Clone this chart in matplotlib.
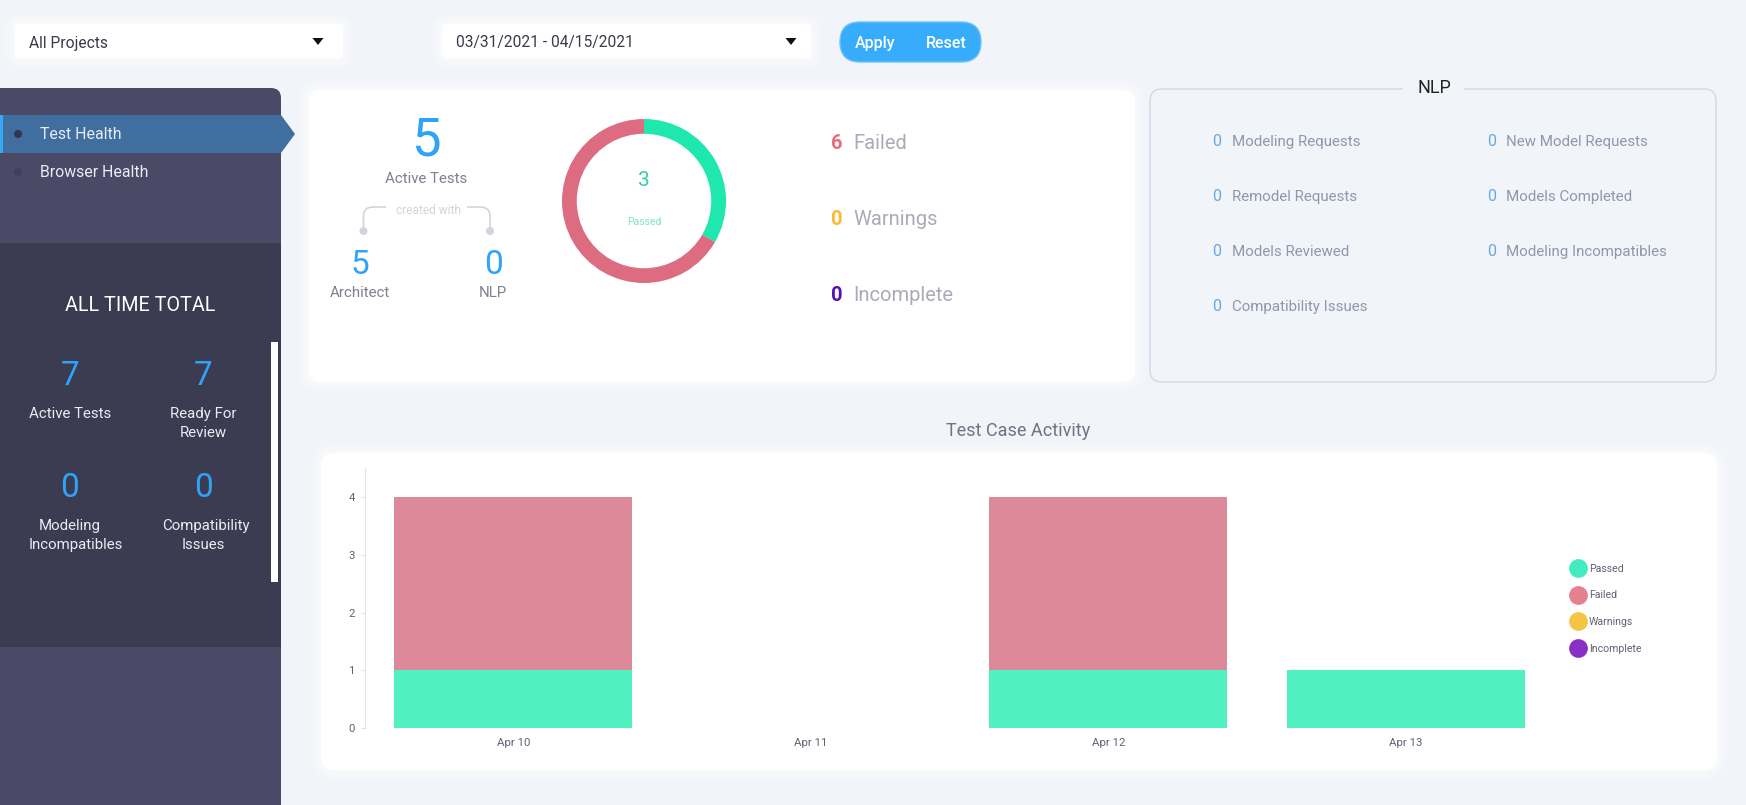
#!/usr/bin/python3
# -*- coding: utf-8 -*-
import matplotlib
matplotlib.use('Agg')
import matplotlib.pyplot as plt
from matplotlib.lines import Line2D
from matplotlib.patches import Circle, FancyBboxPatch, PathPatch, Polygon, Rectangle
from matplotlib.path import Path

# chart data
days = ['Apr 10', 'Apr 11', 'Apr 12', 'Apr 13']
passed = [1, 0, 1, 1]
failed = [3, 0, 3, 0]
warnings_ = [0, 0, 0, 0]
incomplete = [0, 0, 0, 0]
series_names = ['Passed', 'Failed', 'Warnings', 'Incomplete']
y_ticks = [0, 1, 2, 3, 4]

# donut and summary numbers
donut_values = [3, 6]
status_counts = [6, 0, 0]
status_names = ['Failed', 'Warnings', 'Incomplete']
active_tests = 5
created_with = [('Architect', 5), ('NLP', 0)]
nlp_left = [('Modeling Requests', 0), ('Remodel Requests', 0), ('Models Reviewed', 0), ('Compatibility Issues', 0)]
nlp_right = [('New Model Requests', 0), ('Models Completed', 0), ('Modeling Incompatibles', 0)]
all_time = [7, 7, 0, 0]

W, H = 1746, 805
BG = '#f1f4f9'
BLUE = '#2ea3f7'
GREEN = '#50f0c0'
RED = '#dc8a9a'

plt.rcParams['font.family'] = ['Roboto', 'DejaVu Sans']

fig = plt.figure(figsize=(W / 100, H / 100), dpi=100, facecolor=BG)
# whole figure axes in pixels, used for the page layout
page = fig.add_axes([0, 0, 1, 1])
page.set_xlim(0, W)
page.set_ylim(H, 0)
page.axis('off')


def px_axes(left, top, right, bottom):
    return fig.add_axes([left / W, 1 - bottom / H, (right - left) / W, (bottom - top) / H])


def box(x0, y0, x1, y1, radius, **kw):
    p = FancyBboxPatch((x0 + radius, y0 + radius), x1 - x0 - 2 * radius, y1 - y0 - 2 * radius,
                       boxstyle='round,pad=%d,rounding_size=%d' % (radius, radius), **kw)
    page.add_patch(p)
    return p


def card(x0, y0, x1, y1, radius, color='white', glow=10, zorder=2):
    # soft edge around white panels
    for g in range(glow, 0, -2):
        box(x0 - g, y0 - g, x1 + g, y1 + g, radius + g, fc='white', ec='none', alpha=0.17, zorder=zorder)
    box(x0, y0, x1, y1, radius, fc=color, ec='none', zorder=zorder)


def label(x, y, s, size, color, ha='center', **kw):
    # va center sits a bit high, bigger text more so
    page.text(x, y + 1 + size * 0.05, s, fontsize=size, color=color, ha=ha, va='center', zorder=6, **kw)


# top filters
card(15, 24, 343, 58, 4)
card(442, 24, 811, 58, 4)
label(29, 42, 'All Projects', 11.2, '#3a3a4a', ha='left')
label(456, 41, '03/31/2021 - 04/15/2021', 11.2, '#3a3a4a', ha='left')
page.add_patch(Polygon([(312.5, 38), (323.5, 38), (318, 45)], fc='#111111', ec='none', zorder=5))
page.add_patch(Polygon([(785.5, 38), (796.5, 38), (791, 45)], fc='#111111', ec='none', zorder=5))
box(840, 22, 981, 62, 20, fc='#36acfa', ec='#6fc3fb', lw=1, zorder=3)
label(875, 42, 'Apply', 11.5, 'white', fontweight='medium')
label(946, 42, 'Reset', 11.5, 'white', fontweight='medium')

# sidebar, runs off the left and bottom edge
box(-30, 88, 281, 860, 10, fc='#4a4a66', ec='none', zorder=2)
page.add_patch(Rectangle((0, 243), 281, 404, fc='#3b3b51', ec='none', zorder=3))
page.add_patch(Polygon([(0, 115), (281, 115), (295, 134), (281, 153), (0, 153)], fc='#3f6e9f', ec='none', zorder=3))
page.add_patch(Rectangle((0, 115), 3, 38, fc='#36a9f5', ec='none', zorder=4))
page.add_patch(Circle((18, 134), 4, fc='#33334a', ec='none', zorder=4))
page.add_patch(Circle((18, 172), 4, fc='#40405e', ec='none', zorder=4))
label(40, 132.5, 'Test Health', 11.4, '#e8ecf4', ha='left')
label(40, 171, 'Browser Health', 11.4, '#e8ecf4', ha='left')
label(140, 304, 'ALL TIME TOTAL', 14.2, 'white')
page.add_patch(Rectangle((270.5, 342), 7.5, 240, fc='white', ec='none', zorder=4))

all_time_x = [70, 203, 70, 203]
all_time_y = [374, 374, 486, 486]
for x, y, v in zip(all_time_x, all_time_y, all_time):
    label(x, y, str(v), 24, BLUE)
label(70, 412, 'Active Tests', 10.8, '#e8ecf4')
label(203, 412, 'Ready For', 10.8, '#e8ecf4')
label(203, 431, 'Review', 10.8, '#e8ecf4')
label(70, 524, 'Modeling', 10.8, '#e8ecf4')
label(76, 543, 'Incompatibles', 10.8, '#e8ecf4')
label(206, 524, 'Compatibility', 10.8, '#e8ecf4')
label(203, 543, 'Issues', 10.8, '#e8ecf4')

# active tests card
card(309, 90, 1135, 382, 12)
label(426, 138, str(active_tests), 38, BLUE)
label(426, 177, 'Active Tests', 10.8, '#7d8090')
label(428, 209, 'created with', 8.6, '#d2d4dc')
line_kw = dict(fc='none', ec='#d2d4dc', lw=1.2, zorder=5)
codes = [Path.MOVETO, Path.LINETO, Path.CURVE3, Path.CURVE3, Path.LINETO]
page.add_patch(PathPatch(Path([(363.5, 231), (363.5, 216), (363.5, 207), (373, 207), (386, 207)], codes), **line_kw))
page.add_patch(PathPatch(Path([(490, 231), (490, 216), (490, 207), (480, 207), (467, 207)], codes), **line_kw))
page.add_patch(Circle((363.5, 231), 4, fc='#d2d4dc', ec='none', zorder=5))
page.add_patch(Circle((490, 231), 4, fc='#d2d4dc', ec='none', zorder=5))
for x, (name, v) in zip([360, 493], created_with):
    label(x, 263, str(v), 24, BLUE)
    label(x, 291, name, 10.8, '#7d8090')

status_colors = ['#e86b7d', '#fbb92c', '#5a10b0']
for y, n, name, c in zip([142, 218, 294], status_counts, status_names, status_colors):
    label(837, y, str(n), 14.5, c, fontweight='bold')
    label(853.5, y, name, 14.5, '#a9abb6', ha='left')

# donut
ax_d = px_axes(562, 119, 726, 283)
ax_d.pie(donut_values, colors=['#1ee8ae', '#dd6c80'], startangle=90, counterclock=False, radius=1,
         wedgeprops=dict(width=0.18, linewidth=0))
ax_d.set_xlim(-1, 1)
ax_d.set_ylim(-1, 1)
label(644, 179, str(donut_values[0]), 15, '#35cfa8')
label(644, 221, 'Passed', 7.5, '#7fe3c8')

# NLP box
box(1150, 89, 1716, 382, 12, fc='none', ec='#d3d8e1', lw=1.0, zorder=2)
page.add_patch(Rectangle((1403, 84), 61, 9, fc=BG, ec='none', zorder=3))
label(1434, 86, 'NLP', 13, '#222222')
for y, (name, v) in zip([140, 195, 250, 305], nlp_left):
    label(1217, y, str(v), 11.5, '#6aa9e0')
    label(1232, y, name, 10.9, '#9097ad', ha='left')
for y, (name, v) in zip([140, 195, 250], nlp_right):
    label(1491.5, y, str(v), 11.5, '#6aa9e0')
    label(1506, y, name, 10.9, '#9097ad', ha='left')

# activity chart
label(1018, 429, 'Test Case Activity', 13, '#6f7382')
card(321, 453, 1717, 770, 14)

ax = px_axes(364.5, 468, 1554.5, 728.3)
ax.patch.set_alpha(0)
xs = list(range(len(days)))
bottom = [0] * len(days)
for vals, c in zip([passed, failed, warnings_, incomplete], [GREEN, RED, '#f4c542', '#8a2fc6']):
    ax.bar(xs, vals, width=0.8, bottom=bottom, color=c, linewidth=0)
    bottom = [b + v for b, v in zip(bottom, vals)]
ax.set_xlim(-0.5, 3.5)
ax.set_ylim(0, 4.5)
ax.set_xticks(xs)
ax.set_xticklabels(days)
ax.set_yticks(y_ticks)
for s in ['top', 'right', 'bottom']:
    ax.spines[s].set_visible(False)
ax.spines['left'].set_color('#e4e4e8')
ax.tick_params(axis='x', length=0, labelsize=8.2, labelcolor='#5f6274', pad=7)
ax.tick_params(axis='y', length=3, color='#e4e4e8', labelsize=8.2, labelcolor='#5f6274', pad=4)

handles = [Line2D([], [], ls='none', marker='o', ms=13.5, mfc=c, mec='none')
           for c in ['#43ebc0', '#e5808f', '#f4c542', '#8a2fc6']]
ax.legend(handles, series_names, loc='center left', frameon=False, fontsize=7.6, labelcolor='#5f6274',
          bbox_to_anchor=((1567 - 364.5) / 1190, 0.46), borderpad=0, borderaxespad=0,
          handletextpad=0.1, labelspacing=1.58, handlelength=2)

fig.savefig('out.png', dpi=100, facecolor=BG)
